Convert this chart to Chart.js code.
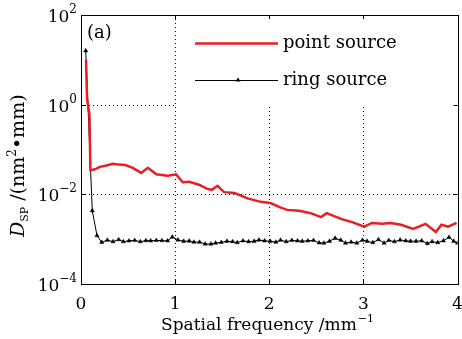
<!DOCTYPE html>
<html>
<head>
<meta charset="utf-8">
<script src="https://cdn.jsdelivr.net/npm/chart.js@4"></script>
<style>
html,body{margin:0;padding:0;background:#fff;}
#wrap{width:462px;height:339px;}
</style>
</head>
<body>
<div id="wrap"><canvas id="c" width="462" height="339"></canvas></div>
<script>
// ---- data ----
const redX = [0.053,0.065,0.09,0.10,0.12,0.16,0.20,0.27,0.34,0.40,0.47,0.55,0.64,0.71,0.80,0.92,1.01,1.08,1.15,1.26,1.34,1.39,1.45,1.52,1.63,1.77,1.91,2.02,2.11,2.19,2.32,2.44,2.55,2.61,2.77,2.88,3.01,3.09,3.20,3.29,3.40,3.53,3.66,3.77,3.83,3.90,3.99];
const redY = [10,1.3,0.6,0.035,0.035,0.037,0.041,0.044,0.048,0.046,0.045,0.039,0.030,0.039,0.028,0.026,0.028,0.0186,0.019,0.0162,0.0132,0.0126,0.0155,0.0112,0.0107,0.0081,0.0068,0.0063,0.0052,0.0045,0.0043,0.0038,0.0031,0.0038,0.0028,0.0024,0.0019,0.0023,0.0022,0.0023,0.0021,0.0017,0.0022,0.00145,0.0021,0.0019,0.0023];
const blackX = [0.05,0.12,0.17,0.22,0.28,0.34,0.40,0.45,0.51,0.57,0.63,0.69,0.74,0.80,0.86,0.92,0.97,1.03,1.09,1.15,1.20,1.26,1.32,1.38,1.43,1.49,1.55,1.61,1.66,1.72,1.78,1.84,1.89,1.95,2.01,2.07,2.12,2.18,2.24,2.30,2.35,2.41,2.47,2.53,2.58,2.64,2.70,2.76,2.81,2.87,2.93,2.99,3.04,3.10,3.16,3.22,3.27,3.33,3.39,3.45,3.50,3.56,3.62,3.68,3.73,3.79,3.85,3.91,3.96,4.00];
const blackY = [16,0.0043,0.0012,0.00085,0.00095,0.00088,0.00098,0.00088,0.00092,0.00094,0.00088,0.00093,0.00092,0.00094,0.00093,0.00092,0.00112,0.00096,0.00090,0.00091,0.00086,0.00086,0.00078,0.00078,0.00082,0.00085,0.00090,0.00088,0.00084,0.00092,0.00088,0.00090,0.00096,0.00092,0.00090,0.00086,0.00095,0.00088,0.00094,0.00092,0.00090,0.00092,0.00094,0.00083,0.00082,0.00090,0.00105,0.00095,0.00082,0.00086,0.00082,0.00095,0.00090,0.00084,0.00098,0.00082,0.00094,0.00088,0.00096,0.00092,0.00090,0.00090,0.00092,0.00080,0.00088,0.00084,0.00092,0.00110,0.00090,0.00082];
const seriesNames = ['point source','ring source'];
const xTickValues = [0,1,2,3,4];
const xTickLabels = ['0','1','2','3','4'];
const yTickValues = [1e-4,1e-2,1e0,1e2];
const yTickExps = ['\u22124','\u22122','0','2'];
const xGridValues = [1,2,3];
const yGridValues = [1e0,1e-2];
const panelLabel = '(a)';
const xTitle = 'Spatial frequency /mm';
const xTitleSup = '\u22121';

const FONT = '"DejaVu Serif", serif';
const RED = 'rgb(236,28,36)';

const decor = {
  id: 'decor',
  beforeDatasetsDraw(chart) {
    const {ctx, chartArea: a, scales: {x, y}} = chart;
    ctx.save();
    ctx.strokeStyle = '#000';
    ctx.lineWidth = 1;
    ctx.setLineDash([1, 3]);
    xGridValues.forEach(v => {
      const px = Math.round(x.getPixelForValue(v)) + 0.5;
      ctx.beginPath(); ctx.moveTo(px, a.top); ctx.lineTo(px, a.bottom); ctx.stroke();
    });
    yGridValues.forEach(v => {
      const py = Math.round(y.getPixelForValue(v)) + 0.5;
      ctx.beginPath(); ctx.moveTo(a.left, py); ctx.lineTo(a.right, py); ctx.stroke();
    });
    ctx.setLineDash([]);
    // legend box (white, hides gridlines)
    const lx = x.getPixelForValue(1) + 1;
    const ly = y.getPixelForValue(1e0) + 1.5;
    ctx.fillStyle = '#fff';
    ctx.fillRect(lx, a.top, a.right - lx, ly - a.top);
    ctx.restore();
  },
  afterDatasetsDraw(chart) {
    const {ctx, chartArea: a, scales: {x, y}} = chart;
    ctx.save();
    // frame
    ctx.strokeStyle = '#000';
    ctx.lineWidth = 1;
    ctx.strokeRect(Math.round(a.left) + 0.5, Math.round(a.top) + 0.5, Math.round(a.right - a.left), Math.round(a.bottom - a.top));
    // inward ticks
    const tl = 4;
    xTickValues.forEach(v => {
      const px = Math.round(x.getPixelForValue(v)) + 0.5;
      ctx.beginPath();
      ctx.moveTo(px, a.bottom); ctx.lineTo(px, a.bottom - tl);
      ctx.moveTo(px, a.top); ctx.lineTo(px, a.top + tl);
      ctx.stroke();
    });
    yTickValues.forEach(v => {
      const py = Math.round(y.getPixelForValue(v)) + 0.5;
      ctx.beginPath();
      ctx.moveTo(a.left, py); ctx.lineTo(a.left + tl, py);
      ctx.moveTo(a.right, py); ctx.lineTo(a.right - tl, py);
      ctx.stroke();
    });
    // x tick labels
    ctx.fillStyle = '#000';
    ctx.font = '17px ' + FONT;
    ctx.textAlign = 'center';
    ctx.textBaseline = 'alphabetic';
    xTickValues.forEach((v, i) => {
      ctx.fillText(xTickLabels[i], x.getPixelForValue(v), a.bottom + 25);
    });
    // y tick labels: 10 with superscript
    yTickValues.forEach((v, i) => {
      const py = y.getPixelForValue(v);
      ctx.font = '12px ' + FONT;
      const ew = ctx.measureText(yTickExps[i]).width;
      ctx.textAlign = 'left';
      const right = a.left - 4;
      ctx.fillText(yTickExps[i], right - ew, py - 2);
      ctx.font = '17px ' + FONT;
      const bw = ctx.measureText('10').width;
      ctx.fillText('10', right - ew - bw, py + 7);
    });
    // x title
    ctx.font = '17px ' + FONT;
    const tw = ctx.measureText(xTitle).width;
    ctx.font = '11px ' + FONT;
    const sw = ctx.measureText(xTitleSup).width;
    const cx = 267;
    const sx = cx - (tw + sw) / 2;
    ctx.font = '17px ' + FONT;
    ctx.textAlign = 'left';
    ctx.fillText(xTitle, sx, a.bottom + 46);
    ctx.font = '11px ' + FONT;
    ctx.fillText(xTitleSup, sx + tw + 1, a.bottom + 38);
    // y title (rotated)
    ctx.save();
    ctx.translate(24, 237);
    ctx.rotate(-Math.PI / 2);
    let px = 0;
    const part = (txt, font, dy) => {
      ctx.font = font;
      ctx.fillText(txt, px, dy);
      px += ctx.measureText(txt).width;
    };
    part('D', 'italic 19px ' + FONT, 0);
    part('SP', '11px ' + FONT, 4);
    part(' /(nm', '19px ' + FONT, 0);
    part('2', '12px ' + FONT, -8);
    part('\u2022mm)', '19px ' + FONT, 0);
    ctx.restore();
    // panel label
    ctx.font = '18px ' + FONT;
    ctx.textAlign = 'left';
    ctx.fillText(panelLabel, a.left + 6, a.top + 23);
    // legend
    const lx0 = 195, lx1 = 278;
    ctx.strokeStyle = RED; ctx.lineWidth = 2.5;
    ctx.beginPath(); ctx.moveTo(lx0, 43.5); ctx.lineTo(lx1, 43.5); ctx.stroke();
    ctx.strokeStyle = '#000'; ctx.lineWidth = 1;
    ctx.beginPath(); ctx.moveTo(lx0, 80.5); ctx.lineTo(lx1, 80.5); ctx.stroke();
    ctx.beginPath(); ctx.moveTo(238, 77.5); ctx.lineTo(240.5, 81.5); ctx.lineTo(235.5, 81.5); ctx.closePath(); ctx.fill();
    ctx.font = '18px ' + FONT;
    ctx.fillStyle = '#000';
    ctx.textBaseline = 'middle';
    ctx.fillText(seriesNames[0], 283, 43);
    ctx.fillText(seriesNames[1], 283, 80);
    ctx.restore();
  }
};

new Chart(document.getElementById('c'), {
  type: 'line',
  data: {
    datasets: [
      {
        label: seriesNames[0],
        data: redX.map((v, i) => ({x: v, y: redY[i]})),
        borderColor: RED,
        borderWidth: 2.5,
        pointRadius: 0,
        tension: 0,
        fill: false
      },
      {
        label: seriesNames[1],
        data: blackX.map((v, i) => ({x: v, y: blackY[i]})),
        borderColor: '#000',
        borderWidth: 1,
        pointStyle: 'triangle',
        pointRadius: 2.4,
        pointBackgroundColor: '#000',
        pointBorderColor: '#000',
        pointBorderWidth: 0.5,
        tension: 0,
        fill: false
      }
    ]
  },
  options: {
    responsive: false,
    animation: false,
    events: [],
    layout: {padding: {left: 81, right: 3, top: 15, bottom: 55}},
    plugins: {legend: {display: false}, tooltip: {enabled: false}, title: {display: false}},
    scales: {
      x: {type: 'linear', min: 0, max: 4, display: false},
      y: {type: 'logarithmic', min: 1e-4, max: 1e2, display: false}
    }
  },
  plugins: [decor]
});
</script>
</body>
</html>
